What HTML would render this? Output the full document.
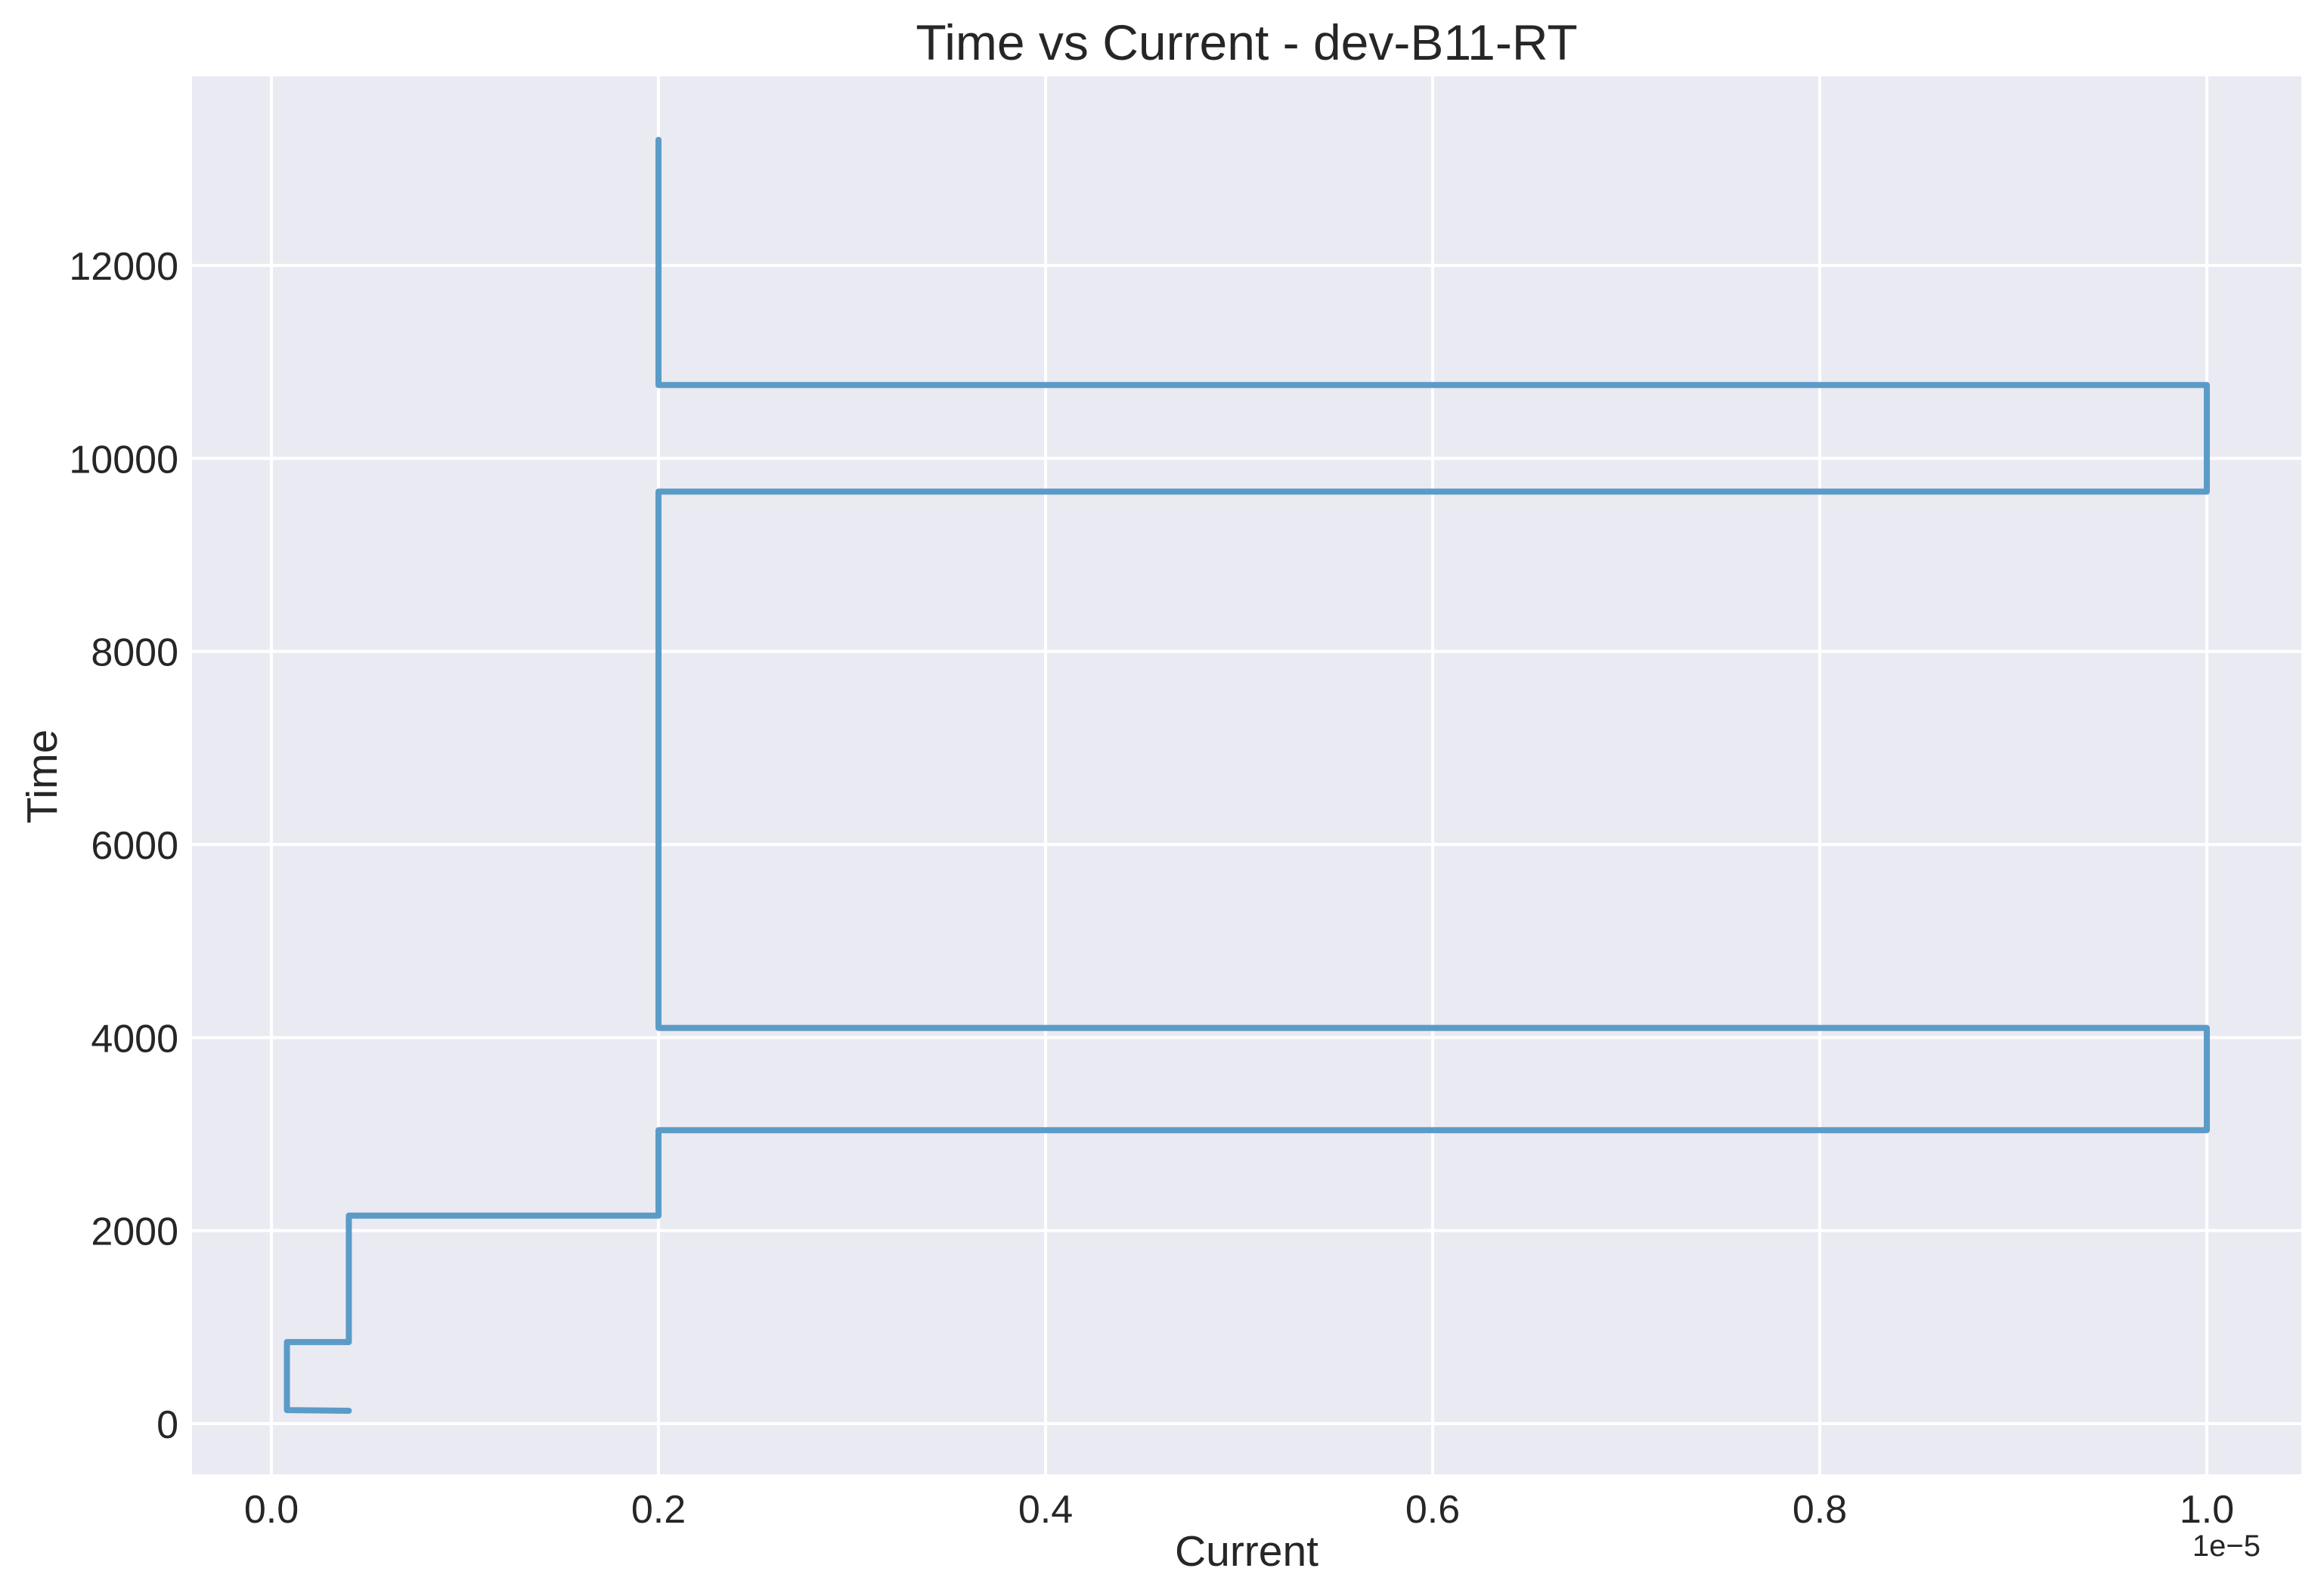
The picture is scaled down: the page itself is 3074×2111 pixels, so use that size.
<!DOCTYPE html>
<html><head><meta charset="utf-8"><style>
body{margin:0;background:#fff}
svg{display:block;font-family:"Liberation Sans",Arial,sans-serif}
</style></head><body>
<svg id="chart" width="3074" height="2111" viewBox="0 0 3074 2111">
<rect x="254" y="101" width="2790" height="1849" fill="#eaeaf2"/>
<g id="grid"></g>
<g id="series"></g>
<text x="1649" y="79" font-size="66" text-anchor="middle" fill="#262626">Time vs Current - dev-B11-RT</text>
<text x="1649" y="2071" font-size="57" text-anchor="middle" fill="#262626">Current</text>
<text transform="translate(75,1027) rotate(-90)" font-size="57" text-anchor="middle" fill="#262626">Time</text>
<text x="2990" y="2058" font-size="40" text-anchor="end" fill="#262626">1e−5</text>
</svg>
<script>
const xTicks=[0,0.2,0.4,0.6,0.8,1.0];
const xTickLabels=["0.0","0.2","0.4","0.6","0.8","1.0"];
const yTicks=[0,2000,4000,6000,8000,10000,12000];
const yTickLabels=["0","2000","4000","6000","8000","10000","12000"];
const currentValues=[0.04,0.008,0.008,0.04,0.04,0.2,0.2,1.0,1.0,0.2,0.2,1.0,1.0,0.2,0.2];
const timeValues=[133,140,845,845,2155,2155,3040,3040,4100,4100,9655,9655,10760,10760,13300];

const X=v=>359+v*2560;
const Y=v=>1883-v*0.12767;
const NS="http://www.w3.org/2000/svg";
const grid=document.getElementById('grid'), ser=document.getElementById('series'), svg=document.getElementById('chart');
function mk(t,a,p){const e=document.createElementNS(NS,t);for(const k in a)e.setAttribute(k,a[k]);p.appendChild(e);return e;}
xTicks.forEach((v,i)=>{
  const l=mk('line',{x1:X(v),x2:X(v),y1:101,y2:1950,stroke:'#fff','stroke-width':4},grid);
  
  
  const t=mk('text',{x:X(v),y:2014,'font-size':52,'text-anchor':'middle',fill:'#262626'},svg);
  t.textContent=xTickLabels[i];
  
  
});
yTicks.forEach((v,i)=>{
  const l=mk('line',{x1:254,x2:3044,y1:Y(v),y2:Y(v),stroke:'#fff','stroke-width':4},grid);
  
  
  const t=mk('text',{x:236,y:Y(v)+19,'font-size':52,'text-anchor':'end',fill:'#262626'},svg);
  t.textContent=yTickLabels[i];
  
  
});
const pts=currentValues.map((c,i)=>X(c).toFixed(1)+','+Y(timeValues[i]).toFixed(1)).join(' ');
const pl=mk('polyline',{points:pts,fill:'none',stroke:'#5b9bc8','stroke-width':8,'stroke-linejoin':'round','stroke-linecap':'round'},ser);


</script>
</body></html>
